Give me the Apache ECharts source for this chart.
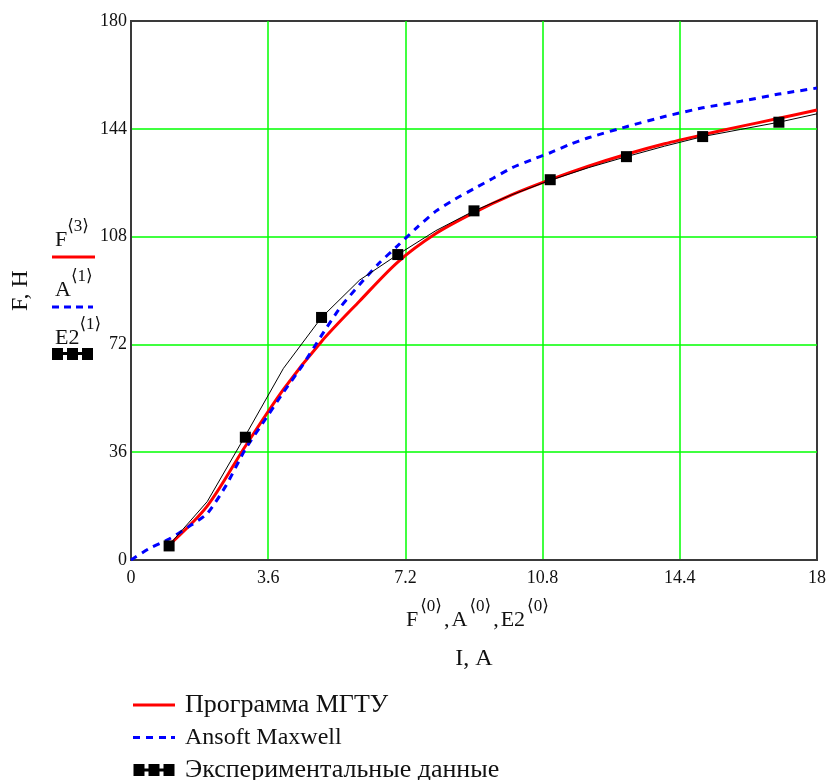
<!DOCTYPE html>
<html>
<head>
<meta charset="utf-8">
<script src="https://cdn.jsdelivr.net/npm/echarts@6/dist/echarts.min.js"></script>
<style>
  html, body { margin: 0; padding: 0; background: #fff; }
  #root { width: 830px; height: 780px; }
</style>
</head>
<body>
<div id="root"></div>
<script>
// Программа МГТУ (F<3>)
var progCurrent = [1, 2, 3, 4, 5, 6, 7, 8, 9, 10, 11, 12, 13, 14, 15, 16, 17, 18];
var progForce = [5, 18, 38, 57, 73, 86.5, 99.5, 109, 116, 122, 127, 131.5, 135.5, 139, 142, 144.8, 147.5, 150.3];

// Ansoft Maxwell (A<1>)
var ansoftCurrent = [0, 0.5, 1, 1.5, 2, 2.5, 3, 3.5, 4, 4.5, 5, 5.5, 6, 6.5, 7, 7.5, 8, 8.5, 9, 9.5, 10, 10.5, 11, 11.5, 12, 13, 14, 15, 16, 17, 18];
var ansoftForce = [0, 4, 7, 11, 15.5, 25, 37, 46.5, 56, 65, 75, 84.5, 92, 99, 105, 111, 116.5, 120.5, 124, 127.5, 131, 133.6, 136, 138.7, 141, 144.7, 148.1, 151, 153.2, 155.6, 157.6];

// Экспериментальные данные (E2<1>)
var expCurrent = [1, 3, 5, 7, 9, 11, 13, 15, 17];
var expForce = [4.7, 41, 81, 102, 116.6, 127, 134.7, 141.4, 146.2];

// thin black line through the experiment
var lineCurrent = [1, 2, 3, 4, 5, 6, 7, 8, 9, 10, 11, 12, 13, 14, 15, 16, 17, 18];
var lineForce = [5, 19.5, 41.5, 64, 81, 93.5, 102, 110, 116.6, 122, 126.8, 131, 134.7, 138.2, 141.4, 143.8, 146.2, 149];

var xTicks = [0, 3.6, 7.2, 10.8, 14.4, 18];
var yTicks = [0, 36, 72, 108, 144, 180];

var SERIF = '"Liberation Serif", "DejaVu Serif", serif';
var TXT = '#111';

function zip(a, b) {
	var out = [];
	for (var i = 0; i < a.length; i++) out.push([a[i], b[i]]);
	return out;
}

var measureCtx = document.createElement('canvas').getContext('2d');
function textWidth(s, size) {
	measureCtx.font = size + 'px ' + SERIF;
	return measureCtx.measureText(s).width;
}

// mathcad style label: pieces of [text, isSup]
function mathLabel(x, y, pieces, size, supSize, gap) {
	var els = [];
	var cx = x;
	pieces.forEach(function (p) {
		var sz = p[1] ? supSize : size;
		els.push({
			type: 'text', x: cx, y: p[1] ? y - size * 0.6 : y, silent: true,
			style: { text: p[0], fill: TXT, font: sz + 'px ' + SERIF, verticalAlign: 'middle', align: 'left' }
		});
		cx += textWidth(p[0], sz) + (gap || 0);
	});
	return els;
}

var graphics = [];
graphics = graphics.concat(mathLabel(55, 240, [['F', 0], ['⟨3⟩', 1]], 22, 17));
graphics.push({ type: 'line', silent: true, shape: { x1: 52, y1: 257, x2: 95, y2: 257 }, style: { stroke: '#ff0000', lineWidth: 3 } });
graphics = graphics.concat(mathLabel(55, 290, [['A', 0], ['⟨1⟩', 1]], 22, 17));
graphics.push({ type: 'line', silent: true, shape: { x1: 52, y1: 307, x2: 93, y2: 307 }, style: { stroke: '#0000ff', lineWidth: 3, lineDash: [7, 5] } });
graphics = graphics.concat(mathLabel(55, 338, [['E2', 0], ['⟨1⟩', 1]], 22, 17));
[52, 67, 82].forEach(function (sx) {
	graphics.push({ type: 'rect', silent: true, shape: { x: sx, y: 348, width: 11, height: 12 }, style: { fill: '#000' } });
});
graphics.push({ type: 'rect', silent: true, shape: { x: 60, y: 352, width: 26, height: 3 }, style: { fill: '#000' } });
graphics = graphics.concat(mathLabel(406, 620, [['F', 0], ['⟨0⟩', 1], [',', 0], ['A', 0], ['⟨0⟩', 1], [',', 0], ['E2', 0], ['⟨0⟩', 1]], 22, 17, 2));

var chart = echarts.init(document.getElementById('root'), null, { renderer: 'canvas' });

var option = {
	animation: false,
	backgroundColor: '#fff',
	grid: {
		left: 131, right: 13, top: 21, bottom: 220,
		show: true, borderColor: '#3a3a3a', borderWidth: 2, backgroundColor: 'transparent'
	},
	legend: {
		orient: 'vertical', left: 133, top: 692, height: 120, padding: 0,
		itemWidth: 42, itemHeight: 12, itemGap: 7,
		textStyle: {
			fontFamily: SERIF, fontSize: 24, lineHeight: 25, color: TXT, padding: [0, 0, 0, 5],
			rich: { cy: { fontFamily: SERIF, fontSize: 26, lineHeight: 25, color: TXT } }
		},
		formatter: function (name) {
			return /[А-я]/.test(name) ? '{cy|' + name + '}' : name;
		},
		data: [
			{ name: 'Программа МГТУ', icon: 'path://M0,5H42V8H0Z' },
			{ name: 'Ansoft Maxwell', icon: 'path://M0,5H7V8H0Z M13,5H20V8H13Z M26,5H33V8H26Z M38,5H42V8H38Z' },
			{ name: 'Экспериментальные данные', icon: 'path://M0,0H11V12H0Z M15,0H26V12H15Z M30,0H41V12H30Z M10,4.5H31V7.5H10Z' }
		]
	},
	xAxis: {
		type: 'value', min: 0, max: 18, interval: 3.6,
		name: 'I, A', nameLocation: 'middle', nameGap: 87,
		nameTextStyle: { fontFamily: SERIF, fontSize: 24, color: TXT },
		axisLine: { show: true, lineStyle: { color: '#3a3a3a', width: 2 } },
		axisTick: { show: false },
		axisLabel: {
			margin: 9, fontFamily: SERIF, fontSize: 18, color: TXT,
			formatter: function (v) { return xTicks.indexOf(+v.toFixed(1)) >= 0 ? String(+v.toFixed(1)) : ''; }
		},
		splitLine: { show: true, showMinLine: false, showMaxLine: false, lineStyle: { color: '#00ff00', width: 1.5 } }
	},
	yAxis: {
		type: 'value', min: 0, max: 180, interval: 36,
		name: 'F, H', nameLocation: 'middle', nameGap: 98,
		nameTextStyle: { fontFamily: SERIF, fontSize: 24, color: TXT },
		axisLine: { show: true, lineStyle: { color: '#3a3a3a', width: 2 } },
		axisTick: { show: false },
		axisLabel: {
			margin: 4, fontFamily: SERIF, fontSize: 18, color: TXT,
			formatter: function (v) { return yTicks.indexOf(v) >= 0 ? String(v) : ''; }
		},
		splitLine: { show: true, showMinLine: false, showMaxLine: false, lineStyle: { color: '#00ff00', width: 1.5 } }
	},
	graphic: graphics,
	series: [
		{
			name: 'Программа МГТУ', type: 'line', smooth: 0.3, showSymbol: false, symbol: 'none',
			data: zip(progCurrent, progForce),
			lineStyle: { color: '#ff0000', width: 3 }, itemStyle: { color: '#ff0000' }, z: 2
		},
		{
			name: 'Ansoft Maxwell', type: 'line', smooth: 0.2, showSymbol: false, symbol: 'none',
			data: zip(ansoftCurrent, ansoftForce),
			lineStyle: { color: '#0000ff', width: 3, type: [7, 6] }, itemStyle: { color: '#0000ff' }, z: 3
		},
		{
			name: 'expLine', type: 'line', showSymbol: false, symbol: 'none',
			data: zip(lineCurrent, lineForce),
			lineStyle: { color: '#000', width: 1 }, z: 4
		},
		{
			name: 'Экспериментальные данные', type: 'scatter', symbol: 'rect', symbolSize: 11,
			data: zip(expCurrent, expForce),
			itemStyle: { color: '#000', opacity: 1 }, z: 5
		}
	]
};

chart.setOption(option);
</script>
</body>
</html>
